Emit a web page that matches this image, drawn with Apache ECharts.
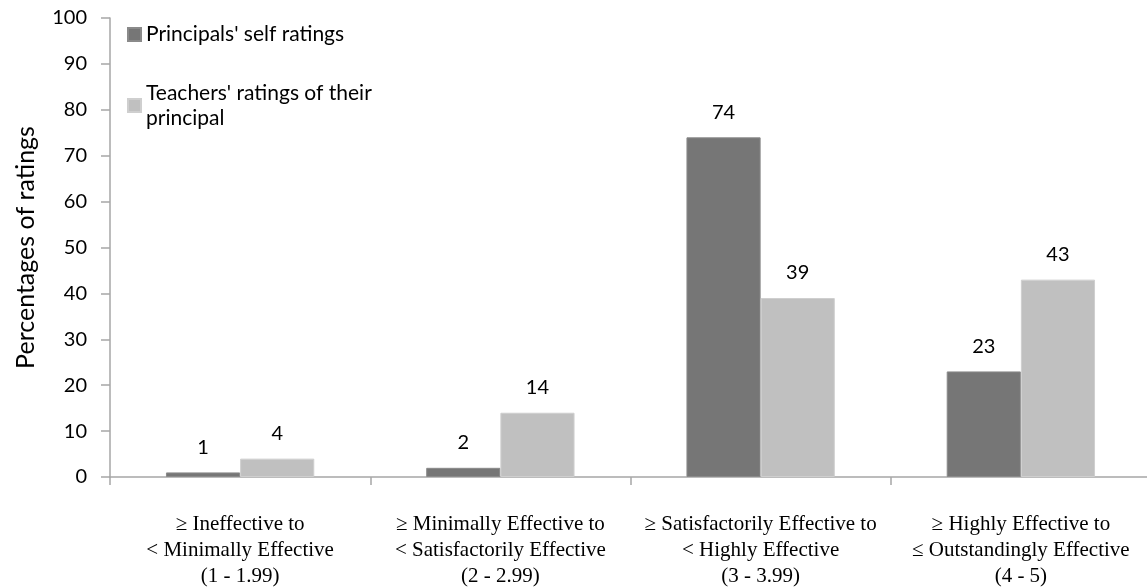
<!DOCTYPE html>
<html>
<head>
<meta charset="utf-8">
<title>Ratings of principal effectiveness</title>
<script src="https://cdn.jsdelivr.net/npm/echarts@6/dist/echarts.min.js"></script>
<style>
  html, body { margin: 0; padding: 0; background: #fff; }
  #chart { width: 1147px; height: 587px; }
</style>
</head>
<body>
<div id="chart"></div>
<script>
// rating bands on the x axis
const categories = [
  '\u2265 Ineffective to\n< Minimally Effective\n(1 - 1.99)',
  '\u2265 Minimally Effective to\n< Satisfactorily Effective\n(2 - 2.99)',
  '\u2265 Satisfactorily Effective to\n< Highly Effective\n(3 - 3.99)',
  '\u2265 Highly Effective to\n\u2264 Outstandingly Effective\n(4 - 5)'
]
// percentages per band
const principalSelf = [1, 2, 74, 23]
const teacherRatings = [4, 14, 39, 43]

const seriesNames = ["Principals' self ratings", "Teachers' ratings of their principal"]
const uiFont = 'Lato, "Open Sans", sans-serif'

const chart = echarts.init(document.getElementById('chart'))

const labelStyle = {
  show: true,
  position: 'top',
  distance: 15,
  color: '#000',
  fontFamily: uiFont,
  fontSize: 20
}

const option = {
  animation: false,
  backgroundColor: '#fff',
  grid: {
    left: 110,
    right: -4,
    top: 18,
    bottom: 110,
    outerBoundsMode: 'none'
  },
  legend: [
    {
      left: 127,
      top: 24,
      padding: 0,
      itemWidth: 13,
      itemHeight: 13,
      itemGap: 4,
      icon: 'rect',
      data: [seriesNames[0]],
      textStyle: { fontFamily: uiFont, fontSize: 21, color: '#000' }
    },
    {
      left: 127,
      top: 68,
      padding: 0,
      itemWidth: 13,
      itemHeight: 13,
      itemGap: 4,
      icon: 'rect',
      data: [seriesNames[1]],
      formatter: () => "Teachers' ratings of their\nprincipal",
      textStyle: {
        fontFamily: uiFont,
        fontSize: 21,
        color: '#000',
        lineHeight: 25,
        padding: [25, 0, 0, 0]
      }
    }
  ],
  xAxis: {
    type: 'category',
    data: categories,
    axisLine: { lineStyle: { color: '#a6a6a6', width: 1.5 } },
    axisTick: { show: true, length: 8, lineStyle: { color: '#a6a6a6', width: 1.5 } },
    axisLabel: {
      interval: 0,
      margin: 34,
      color: '#000',
      fontFamily: '"Liberation Serif", "DejaVu Serif", serif',
      fontSize: 21,
      lineHeight: 26
    }
  },
  yAxis: {
    type: 'value',
    min: 0,
    max: 100,
    interval: 10,
    name: 'Percentages of ratings',
    nameLocation: 'middle',
    nameGap: 72,
    nameTextStyle: { fontFamily: uiFont, fontSize: 25, color: '#000' },
    splitLine: { show: false },
    axisLine: { show: true, lineStyle: { color: '#a6a6a6', width: 1.5 } },
    axisTick: { show: true, length: 9, lineStyle: { color: '#a6a6a6', width: 1.5 } },
    axisLabel: {
      margin: 23,
      color: '#000',
      fontFamily: uiFont,
      fontSize: 20
    }
  },
  series: [
    {
      name: seriesNames[0],
      type: 'bar',
      data: principalSelf,
      barGap: '0%',
      barCategoryGap: '43%',
      itemStyle: { color: '#767676', borderColor: '#8a8a8a', borderWidth: 1 },
      label: labelStyle
    },
    {
      name: seriesNames[1],
      type: 'bar',
      data: teacherRatings,
      barGap: '0%',
      barCategoryGap: '43%',
      itemStyle: { color: '#c0c0c0', borderColor: '#cfcfcf', borderWidth: 1 },
      label: labelStyle
    }
  ]
}

chart.setOption(option)
</script>
</body>
</html>
